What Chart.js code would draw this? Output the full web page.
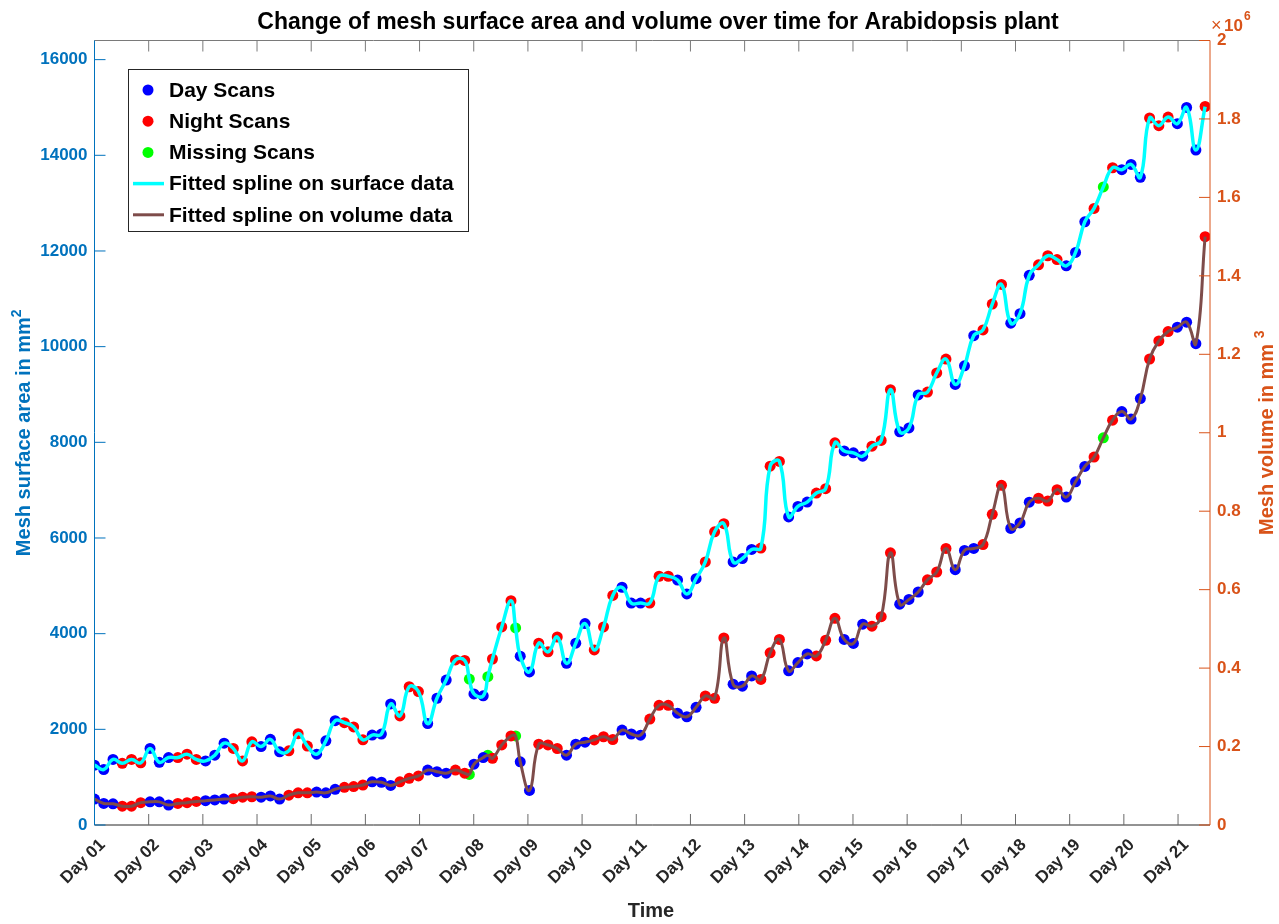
<!DOCTYPE html>
<html>
<head>
<meta charset="utf-8">
<title>Mesh surface area and volume over time</title>
<script src="https://cdn.jsdelivr.net/npm/chart.js@4.4.1/dist/chart.umd.min.js"></script>
<style>
    html, body { margin: 0; padding: 0; background: #fff; }
    #wrap { position: relative; width: 1279px; height: 924px; }
</style>
</head>
<body>
<div id="wrap"><canvas id="meshChart"></canvas></div>
<script>
// scans start at Day 01, roughly one every 4.1 hours
const firstDay = 1;
const scanHours = 4.1;

const dayLabels = ['Day 01', 'Day 02', 'Day 03', 'Day 04', 'Day 05', 'Day 06', 'Day 07',
    'Day 08', 'Day 09', 'Day 10', 'Day 11', 'Day 12', 'Day 13', 'Day 14',
    'Day 15', 'Day 16', 'Day 17', 'Day 18', 'Day 19', 'Day 20', 'Day 21'];

// D = day scan, N = night scan, M = missing scan
const scanType = [
    'DDDNNN', 'DDDNNN', 'DDDNNN', 'DDDNNN', 'DDDNNN', 'DDDNNN',
    'DDDNN', 'DD', 'NNN', 'DD',
    'NNNDDD', 'NNNDDD', 'NNNDDD', 'NNNDDD', 'NNNDDD',
    'NNNDDD', 'NNNDDD', 'NNNDDD', 'NNNDDD', 'NNNDDD',
    'NMN', 'DDDNNNDDDN'
].join('').split('');

// mesh surface area in mm^2, one value per scan
const surfaceArea = [
    1250, 1160, 1370, 1290, 1370, 1300, 1600, 1310, 1410, 1410,
    1480, 1370, 1340, 1460, 1710, 1600, 1340, 1740, 1640, 1790,
    1530, 1550, 1910, 1650, 1480, 1760, 2180, 2140, 2050, 1780,
    1880, 1900, 2530, 2280, 2890, 2790, 2120, 2650, 3030, 3450,
    3440, 2740, 2700, 3470, 4140, 4690, 3530, 3200, 3800, 3620,
    3930, 3380, 3800, 4210, 3660, 4140, 4800, 4970, 4640, 4640,
    4640, 5200, 5200, 5120, 4830, 5150, 5500, 6130, 6300, 5500,
    5570, 5760, 5790, 7500, 7600, 6440, 6660, 6750, 6940, 7030,
    7990, 7820, 7780, 7710, 7920, 8040, 9100, 8220, 8300, 8990,
    9050, 9450, 9740, 9210, 9600, 10230, 10350, 10890, 11300, 10490,
    10690, 11490, 11710, 11900, 11820, 11690, 11970, 12610, 12890, 13340,
    13740, 13700, 13810, 13540, 14780, 14620, 14800, 14660, 15000, 14110,
    15020
];

// mesh volume in mm^3, one value per scan
const meshVolume = [
    66000, 55000, 54000, 48000, 48000, 57000, 59000, 59000, 51000, 55000,
    57000, 60000, 62000, 64000, 66000, 67000, 71000, 72000, 71000, 74000,
    66000, 76000, 82000, 82000, 84000, 82000, 91000, 96000, 98000, 102000,
    110000, 109000, 101000, 110000, 119000, 125000, 140000, 136000, 132000, 140000,
    132000, 155000, 172000, 170000, 204000, 227000, 161000, 88000, 206000, 204000,
    195000, 178000, 206000, 211000, 217000, 225000, 218000, 242000, 232000, 229000,
    270000, 305000, 305000, 285000, 276000, 300000, 329000, 323000, 477000, 359000,
    354000, 380000, 371000, 439000, 473000, 393000, 414000, 436000, 431000, 471000,
    527000, 473000, 463000, 512000, 507000, 531000, 694000, 563000, 575000, 594000,
    625000, 645000, 705000, 651000, 700000, 705000, 715000, 792000, 866000, 756000,
    770000, 823000, 833000, 826000, 855000, 836000, 875000, 914000, 938000, 987000,
    1032000, 1054000, 1035000, 1087000, 1188000, 1234000, 1258000, 1269000, 1282000, 1227000,
    1500000
];

// extra missing scans that fall between two regular scans (scan number)
const missingSlot = [40.5, 42.5, 45.5];
const missingSurface = [3050, 3100, 4120];
const missingVolume = [129000, 178000, 227000];

const surfaceTicks = [0, 2000, 4000, 6000, 8000, 10000, 12000, 14000, 16000];
const volumeTicks = [0, 200000, 400000, 600000, 800000, 1000000, 1200000, 1400000, 1600000, 1800000, 2000000];

const FONT = '"Liberation Sans", Arial, Helvetica, sans-serif';
const BLUE_AX = '#0072BD';
const ORANGE_AX = '#D95319';
const DARK = '#262626';
const CYAN = '#00FFFF';
const BROWN = '#7E4C4A';

const slotToDay = s => firstDay + s * scanHours / 24;

function points(values, type) {
    const out = [];
    values.forEach((v, i) => {
        if (scanType[i] === type) out.push({x: slotToDay(i), y: v});
    });
    return out;
}

function missingPoints(values, extra) {
    return points(values, 'M').concat(missingSlot.map((s, k) => ({x: slotToDay(s), y: extra[k]})));
}

function allPoints(values, extra) {
    const out = values.map((v, i) => ({x: slotToDay(i), y: v}))
        .concat(missingSlot.map((s, k) => ({x: slotToDay(s), y: extra[k]})));
    return out.sort((a, b) => a.x - b.x);
}

function scatter(label, data, color, axis) {
    return {
        type: 'scatter', label: label, data: data, yAxisID: axis,
        backgroundColor: color, borderColor: color, borderWidth: 0,
        pointRadius: 5.5, order: 2
    };
}

function spline(label, data, color, width, axis) {
    return {
        type: 'line', label: label, data: data, yAxisID: axis,
        borderColor: color, borderWidth: width, pointRadius: 0,
        tension: 0.45, fill: false, order: 1
    };
}

function rotatedLabel(ctx, text, sup, cx, cy, color) {
    ctx.save();
    ctx.translate(cx, cy);
    ctx.rotate(-Math.PI / 2);
    ctx.fillStyle = color;
    ctx.textAlign = 'left';
    ctx.textBaseline = 'alphabetic';
    ctx.font = 'bold 20px ' + FONT;
    const w1 = ctx.measureText(text).width;
    ctx.font = 'bold 14px ' + FONT;
    const w2 = ctx.measureText(sup).width;
    const start = -(w1 + w2) / 2;
    ctx.font = 'bold 20px ' + FONT;
    ctx.fillText(text, start, 7);
    ctx.font = 'bold 14px ' + FONT;
    ctx.fillText(sup, start + w1, -2);
    ctx.restore();
}

const decor = {
    id: 'decor',
    afterDraw(chart) {
        const {ctx, chartArea: ca, scales} = chart;
        const tick = 11;
        ctx.save();
        ctx.lineWidth = 1;

        // box and inward ticks
        ctx.strokeStyle = '#7a7a7a';
        ctx.beginPath();
        ctx.moveTo(ca.left, ca.top); ctx.lineTo(ca.right, ca.top);
        scales.x.ticks.forEach(t => {
            const px = scales.x.getPixelForValue(t.value);
            ctx.moveTo(px, ca.top); ctx.lineTo(px, ca.top + tick);
        });
        ctx.stroke();

        ctx.strokeStyle = DARK;
        ctx.beginPath();
        ctx.moveTo(ca.left, ca.bottom); ctx.lineTo(ca.right, ca.bottom);
        ctx.stroke();
        ctx.strokeStyle = '#6a6a6a';
        ctx.beginPath();
        scales.x.ticks.forEach(t => {
            const px = scales.x.getPixelForValue(t.value);
            ctx.moveTo(px, ca.bottom); ctx.lineTo(px, ca.bottom - tick);
        });
        ctx.stroke();

        ctx.strokeStyle = BLUE_AX;
        ctx.beginPath();
        ctx.moveTo(ca.left, ca.top); ctx.lineTo(ca.left, ca.bottom);
        scales.y.ticks.forEach(t => {
            const py = scales.y.getPixelForValue(t.value);
            ctx.moveTo(ca.left, py); ctx.lineTo(ca.left + tick, py);
        });
        ctx.stroke();

        ctx.strokeStyle = ORANGE_AX;
        ctx.beginPath();
        ctx.moveTo(ca.right, ca.top); ctx.lineTo(ca.right, ca.bottom);
        scales.y2.ticks.forEach(t => {
            const py = scales.y2.getPixelForValue(t.value);
            ctx.moveTo(ca.right, py); ctx.lineTo(ca.right - tick, py);
        });
        ctx.stroke();

        // title and axis titles
        ctx.fillStyle = '#000';
        ctx.textAlign = 'center';
        ctx.textBaseline = 'alphabetic';
        ctx.font = 'bold 23px ' + FONT;
        ctx.fillText('Change of mesh surface area and volume over time for Arabidopsis plant', 658, 29);

        ctx.fillStyle = DARK;
        ctx.textBaseline = 'middle';
        ctx.font = 'bold 20px ' + FONT;
        ctx.fillText('Time', 651, 911);

        rotatedLabel(ctx, 'Mesh surface area in mm', '2', 23, (ca.top + ca.bottom) / 2, BLUE_AX);
        rotatedLabel(ctx, 'Mesh volume in mm ', '3', 1266, (ca.top + ca.bottom) / 2, ORANGE_AX);

        // exponent of the right axis
        ctx.fillStyle = ORANGE_AX;
        ctx.textAlign = 'left';
        ctx.textBaseline = 'alphabetic';
        ctx.font = '18px ' + FONT;
        ctx.fillText('\u00d7', 1211, 31);
        ctx.font = 'bold 17px ' + FONT;
        ctx.fillText('10', 1224, 31);
        ctx.font = 'bold 12px ' + FONT;
        ctx.fillText('6', 1244, 20);

        // legend
        const lx = 128.5, ly = 69.5, lw = 340, lh = 162;
        ctx.fillStyle = '#fff';
        ctx.fillRect(lx, ly, lw, lh);
        ctx.strokeStyle = DARK;
        ctx.lineWidth = 1;
        ctx.strokeRect(lx, ly, lw, lh);
        const entries = chart.data.datasets.filter(d => d.legendRow !== undefined)
            .sort((a, b) => a.legendRow - b.legendRow);
        ctx.font = 'bold 21px ' + FONT;
        ctx.textBaseline = 'middle';
        entries.forEach((d, k) => {
            const ry = 90 + k * 31.2;
            if (d.type === 'scatter') {
                ctx.fillStyle = d.backgroundColor;
                ctx.beginPath();
                ctx.arc(148, ry, 5.5, 0, Math.PI * 2);
                ctx.fill();
            } else {
                ctx.strokeStyle = d.borderColor;
                ctx.lineWidth = d.borderWidth;
                ctx.beginPath();
                ctx.moveTo(133, ry); ctx.lineTo(164, ry);
                ctx.stroke();
            }
            ctx.fillStyle = '#000';
            ctx.fillText(d.legendText, 169, ry + 1);
        });
        ctx.restore();
    }
};

const datasets = [
    spline('surface spline', allPoints(surfaceArea, missingSurface), CYAN, 3.5, 'y'),
    spline('volume spline', allPoints(meshVolume, missingVolume), BROWN, 3, 'y2'),
    scatter('day surface', points(surfaceArea, 'D'), '#0000FF', 'y'),
    scatter('night surface', points(surfaceArea, 'N'), '#FF0000', 'y'),
    scatter('missing surface', missingPoints(surfaceArea, missingSurface), '#00FF00', 'y'),
    scatter('day volume', points(meshVolume, 'D'), '#0000FF', 'y2'),
    scatter('night volume', points(meshVolume, 'N'), '#FF0000', 'y2'),
    scatter('missing volume', missingPoints(meshVolume, missingVolume), '#00FF00', 'y2')
];
datasets[2].legendRow = 0; datasets[2].legendText = 'Day Scans';
datasets[3].legendRow = 1; datasets[3].legendText = 'Night Scans';
datasets[4].legendRow = 2; datasets[4].legendText = 'Missing Scans';
datasets[0].legendRow = 3; datasets[0].legendText = 'Fitted spline on surface data';
datasets[1].legendRow = 4; datasets[1].legendText = 'Fitted spline on volume data';

new Chart(document.getElementById('meshChart'), {
    data: {datasets: datasets},
    options: {
        responsive: true,
        maintainAspectRatio: false,
        animation: false,
        events: [],
        layout: {padding: {top: 40.5, left: 0, right: 0, bottom: 0}},
        plugins: {legend: {display: false}, tooltip: {enabled: false}, title: {display: false}},
        scales: {
            x: {
                type: 'linear', min: firstDay, max: 21.59,
                afterBuildTicks: s => { s.ticks = dayLabels.map((_, k) => ({value: firstDay + k})); },
                afterFit: s => { s.height = 99; },
                grid: {display: false, drawTicks: false},
                border: {display: false},
                ticks: {
                    autoSkip: false, minRotation: 45, maxRotation: 45, padding: 10, labelOffset: 8,
                    color: DARK, font: {family: FONT, size: 17, weight: 'bold'},
                    callback: v => dayLabels[Math.round(v) - firstDay]
                }
            },
            y: {
                type: 'linear', position: 'left', min: 0, max: 16400,
                afterBuildTicks: s => { s.ticks = surfaceTicks.map(v => ({value: v})); },
                afterFit: s => { s.width = 94.5; },
                grid: {display: false, drawTicks: false},
                border: {display: false},
                ticks: {padding: 7, color: BLUE_AX, font: {family: FONT, size: 17, weight: 'bold'},
                    callback: v => String(v)}
            },
            y2: {
                type: 'linear', position: 'right', min: 0, max: 2000000,
                afterBuildTicks: s => { s.ticks = volumeTicks.map(v => ({value: v})); },
                afterFit: s => { s.width = 69; },
                grid: {display: false, drawTicks: false},
                border: {display: false},
                ticks: {padding: 7, color: ORANGE_AX, font: {family: FONT, size: 17, weight: 'bold'},
                    callback: v => String(+(v / 1e6).toFixed(1))}
            }
        }
    },
    plugins: [decor]
});
</script>
</body>
</html>
